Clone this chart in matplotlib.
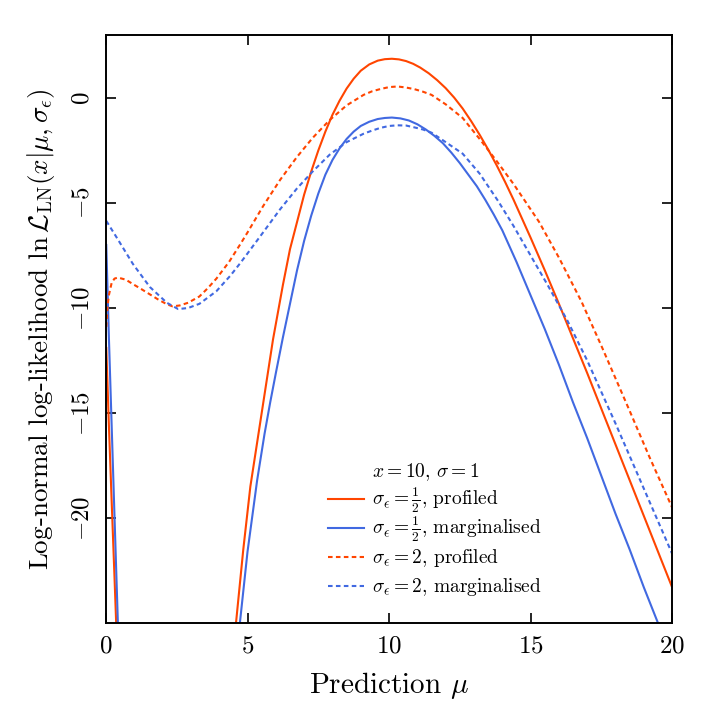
import numpy as np
import matplotlib
matplotlib.use('Agg')
import matplotlib.pyplot as plt

# ---- values ----
# sigma_eps = 1/2, profiled (red, solid); NaN splits the two branches
rs_x = [0.01, 0.1, 0.2, 0.3, 0.4, np.nan,
        4.5, 4.6, 4.85, 5.1, 5.5, 5.9, 6.25, 6.5, 6.75, 7.0, 7.25, 7.5, 7.75,
        8.0, 8.25, 8.5, 8.75, 9.0, 9.3, 9.6, 9.85, 10.1, 10.35, 10.6, 10.85,
        11.1, 11.4, 11.7, 12.0, 12.3, 12.6, 12.9, 13.2, 13.5, 13.8, 14.1, 14.4,
        15.0, 15.5, 16.0, 16.5, 17.0, 17.5, 18.0, 18.5, 19.0, 19.5, 20.0]
rs_y = [-11.9, -15.5, -19.2, -22.8, -26.5, np.nan,
        -26.0, -24.9, -21.5, -18.5, -15.0, -11.5, -8.9, -7.2, -5.9, -4.6, -3.5,
        -2.5, -1.6, -0.8, -0.13, 0.45, 0.92, 1.3, 1.6, 1.78, 1.85, 1.87,
        1.84, 1.76, 1.63, 1.45, 1.18, 0.85, 0.47, 0.02, -0.5, -1.1, -1.75,
        -2.45, -3.2, -4.0, -4.85, -6.65, -8.2, -9.8, -11.45, -13.1, -14.8,
        -16.5, -18.2, -19.9, -21.6, -23.3]

# sigma_eps = 1/2, marginalised (blue, solid)
bs_x = [0.01, 0.1, 0.2, 0.3, 0.42, 0.45, np.nan,
        4.65, 4.73, 5.0, 5.34, 5.6, 5.8, 6.0, 6.25, 6.5, 6.75, 7.0, 7.25, 7.5,
        7.75, 8.0, 8.25, 8.5, 8.75, 9.0, 9.3, 9.6, 9.85, 10.1, 10.4, 10.7,
        11.0, 11.3, 11.6, 11.9, 12.2, 12.5, 12.8, 13.1, 13.4, 13.7, 14.0, 14.5,
        15.0, 15.5, 16.0, 16.5, 17.0, 17.5, 18.0, 18.5, 19.0, 19.5, 19.6]
bs_y = [-7.0, -11.3, -15.6, -19.9, -25.0, -26.3, np.nan,
        -26.0, -25.0, -21.6, -18.2, -16.0, -14.5, -13.1, -11.4, -9.8, -8.2,
        -6.8, -5.6, -4.55, -3.65, -2.95, -2.4, -1.95, -1.6, -1.33, -1.13,
        -1.0, -0.95, -0.93, -0.97, -1.07, -1.25, -1.5, -1.8, -2.15, -2.6, -3.1,
        -3.65, -4.2, -4.85, -5.55, -6.3, -7.8, -9.4, -11.0, -12.7, -14.5,
        -16.2, -18.0, -19.8, -21.5, -23.3, -25.0, -25.4]

# sigma_eps = 2, profiled (red, dotted)
rd_x = [0.01, 0.05, 0.1, 0.2, 0.3, 0.42, 0.7, 0.95, 1.25, 1.55, 1.85, 2.15,
        2.35, 2.6, 2.9, 3.3, 3.6, 3.9, 4.35, 4.75, 5.0, 5.55, 6.15, 6.75, 7.3,
        7.9, 8.5, 9.1, 9.4, 9.7, 10.0, 10.3, 10.6, 10.9, 11.2, 11.5, 12.0,
        12.6, 13.2, 13.8, 14.4, 15.3, 16.0, 16.8, 17.5, 18.5, 19.2, 20.0]
rd_y = [-10.9, -10.0, -9.4, -8.8, -8.6, -8.55, -8.65, -8.86, -9.1, -9.35,
        -9.6, -9.82, -9.92, -9.88, -9.75, -9.45, -9.05, -8.6, -7.8, -6.95,
        -6.4, -5.15, -3.9, -2.8, -1.9, -1.05, -0.35, 0.15, 0.32, 0.43, 0.52,
        0.55, 0.5, 0.42, 0.3, 0.15, -0.3, -0.95, -1.95, -3.0, -4.1, -5.9,
        -7.6, -9.7, -11.8, -14.9, -17.1, -19.5]

# sigma_eps = 2, marginalised (blue, dotted)
bd_x = [0.01, 0.39, 0.95, 1.55, 2.15, 2.55, 2.9, 3.3, 3.9, 4.4, 4.75, 5.0,
        5.55, 6.15, 6.75, 7.3, 7.9, 8.5, 9.1, 9.4, 9.7, 10.0, 10.3, 10.6,
        10.9, 11.2, 11.5, 12.0, 12.6, 13.2, 13.85, 14.4, 15.0, 15.6, 16.3,
        17.0, 18.0, 19.0, 20.0]
bd_y = [-5.85, -6.67, -7.9, -9.0, -9.75, -10.05, -10.0, -9.8, -9.2, -8.45,
        -7.85, -7.4, -6.4, -5.3, -4.3, -3.5, -2.7, -2.1, -1.7, -1.55, -1.42,
        -1.33, -1.3, -1.31, -1.4, -1.5, -1.65, -2.1, -2.65, -3.6, -4.9, -6.1,
        -7.5, -8.9, -10.6, -12.5, -15.5, -18.6, -21.7]

labels = [r'$\sigma_\epsilon = \frac{1}{2}$, profiled',
          r'$\sigma_\epsilon = \frac{1}{2}$, marginalised',
          r'$\sigma_\epsilon = 2$, profiled',
          r'$\sigma_\epsilon = 2$, marginalised']
legend_title = r'$x = 10$, $\sigma = 1$'

x_ticks = [0, 5, 10, 15, 20]
y_ticks = [0, -5, -10, -15, -20]

# ---- style: Computer Modern look ----
plt.rcParams['font.family'] = 'serif'
plt.rcParams['font.serif'] = ['cmr10', 'DejaVu Serif']
plt.rcParams['mathtext.fontset'] = 'cm'
plt.rcParams['axes.formatter.use_mathtext'] = True
plt.rcParams['axes.unicode_minus'] = True

RED = '#ff4500'
BLUE = '#4169e1'
dots = (0, (2.2, 1.6))
styles = [(RED, '-'), (BLUE, '-'), (RED, dots), (BLUE, dots)]
series = [(rs_x, rs_y), (bs_x, bs_y), (rd_x, rd_y), (bd_x, bd_y)]

fig = plt.figure(figsize=(7.09, 7.09), dpi=100)
ax = fig.add_axes([0.1495, 0.1213, 0.7985, 0.8293])

for (xs, ys), (c, ls) in zip(series, styles):
    ax.plot(xs, ys, color=c, lw=1.5, ls=ls)

ax.set_xlim(0, 20)
ax.set_ylim(-25, 3)
ax.set_xticks(x_ticks)
ax.set_yticks(y_ticks)
ax.tick_params(direction='in', length=7, width=1.2, top=True, right=True,
               labelsize=18, pad=9)
for lab in ax.get_yticklabels():
    lab.set_rotation(90)
    lab.set_va('center')
for s in ax.spines.values():
    s.set_linewidth(1.4)

ax.set_xlabel(r'Prediction $\mu$', fontsize=21, labelpad=9)
ax.set_ylabel(r'Log-normal log-likelihood $\ln\mathcal{L}_\mathrm{LN}(x|\mu,\sigma_\epsilon)$',
              fontsize=19.5, labelpad=10)

# hand-placed key (even row spacing, as in the reference)
row_y = [0.211, 0.162, 0.112, 0.063]
ax.text(0.470, 0.248, legend_title, transform=ax.transAxes, fontsize=14,
        va='baseline', ha='left')
for yk, lab, (c, ls) in zip(row_y, labels, styles):
    ax.plot([0.392, 0.456], [yk, yk], transform=ax.transAxes, color=c,
            lw=1.5, ls=ls, clip_on=False)
    ax.text(0.470, yk - 0.010, lab, transform=ax.transAxes, fontsize=14,
            va='baseline', ha='left')

fig.savefig('out.png', dpi=100)
